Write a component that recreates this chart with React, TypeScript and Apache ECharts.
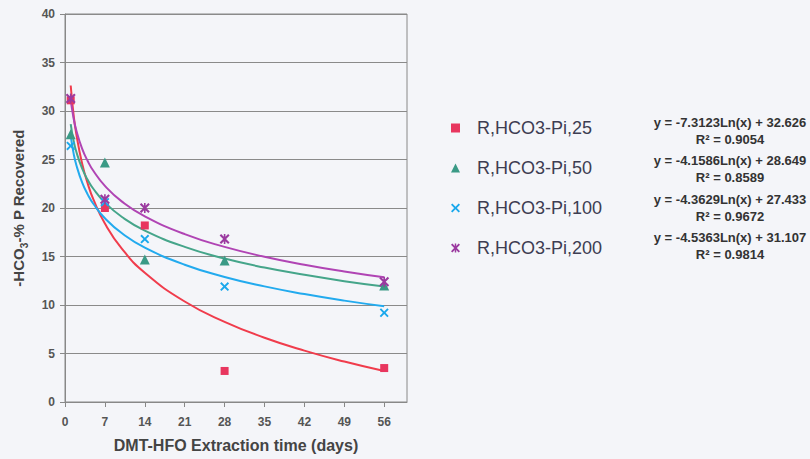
import React, { useEffect, useRef } from 'react';
import * as echarts from 'echarts';

// Measured points (days, % P recovered)
const days = [1, 7, 14, 28, 56];
const pi25 = [31.1, 20.0, 18.2, 3.2, 3.5];
const pi50 = [27.6, 24.7, 14.7, 14.6, 12.0];
const pi100 = [26.4, 20.6, 16.8, 11.9, 9.2];
const pi200 = [31.3, 20.9, 20.0, 16.8, 12.4];

// Logarithmic trend lines as drawn in the chart
const trendX = [1, 1.5, 2, 3, 4, 5, 7, 10, 14, 21, 28, 35, 42, 49, 56];
const trend25 = [32.63, 29.66, 27.56, 24.59, 22.49, 20.86, 18.4, 15.79, 13.33, 10.36, 8.26, 6.63, 5.3, 4.17, 3.19];
const trend50 = [28.65, 26.96, 25.77, 24.08, 22.88, 21.96, 20.56, 19.07, 17.67, 15.99, 14.79, 13.86, 13.11, 12.46, 11.91];
const trend100 = [27.43, 25.66, 24.41, 22.64, 21.38, 20.41, 18.94, 17.39, 15.92, 14.15, 12.89, 11.92, 11.13, 10.45, 9.87];
const trend200 = [31.11, 29.27, 27.96, 26.12, 24.82, 23.81, 22.28, 20.66, 19.14, 17.3, 15.99, 14.98, 14.15, 13.45, 12.85];

const seriesNames = ['R,HCO3-Pi,25', 'R,HCO3-Pi,50', 'R,HCO3-Pi,100', 'R,HCO3-Pi,200'];
const eqTexts = [
  'y = -7.3123Ln(x) + 32.626',
  'y = -4.1586Ln(x) + 28.649',
  'y = -4.3629Ln(x) + 27.433',
  'y = -4.5363Ln(x) + 31.107',
];
const r2Texts = ['R² = 0.9054', 'R² = 0.8589', 'R² = 0.9672', 'R² = 0.9814'];
const xTicks = [0, 7, 14, 21, 28, 35, 42, 49, 56];

const FONT = '"Liberation Sans", Arial, Helvetica, sans-serif';
const crossPath = 'path://M0,1.5L1.5,0L5,3.5L8.5,0L10,1.5L6.5,5L10,8.5L8.5,10L5,6.5L1.5,10L0,8.5L3.5,5Z';
const starPath = 'path://M0,1.5L1.5,0L5,3.5L8.5,0L10,1.5L6.5,5L10,8.5L8.5,10L5,6.5L1.5,10L0,8.5L3.5,5Z M4.2,0L5.8,0L5.8,10L4.2,10Z';

const markerColors = ['#e8365f', '#3a9a86', '#1aa8ec', '#9b3aa0'];
const lineColors = ['#f03c4c', '#45a58a', '#22aaee', '#b044b4'];
const symbols = ['rect', 'triangle', crossPath, starPath];
const symbolSizes = [8, 10, 9, 10];

export default function App() {
  const ref = useRef<HTMLDivElement>(null);
  useEffect(() => {
    const chart = echarts.init(ref.current!, null, { renderer: 'svg' });
    const pts = [pi25, pi50, pi100, pi200];
    const trends = [trend25, trend50, trend100, trend200];
    const scatterSeries = pts.map((vals, i) => ({
      name: seriesNames[i],
      type: 'scatter',
      data: days.map((d, j) => [d, vals[j]]),
      symbol: symbols[i],
      symbolSize: symbolSizes[i],
      itemStyle: { color: markerColors[i], opacity: 1 },
      z: 4,
      silent: true,
    }));
    const lineSeries = trends.map((vals, i) => ({
      name: 'trend' + i,
      type: 'line',
      data: trendX.map((d, j) => [d, vals[j]]),
      showSymbol: false,
      smooth: 0.5,
      lineStyle: { color: lineColors[i], width: 2 },
      itemStyle: { color: lineColors[i] },
      z: 3,
      silent: true,
    }));
    const graphics: any[] = [];
    const eqY = [122, 160, 199, 237];
    eqY.forEach((y, i) => {
      graphics.push({
        type: 'text',
        x: 730,
        y,
        style: {
          text: eqTexts[i],
          fill: '#333',
          font: `bold 13px ${FONT}`,
          textAlign: 'center',
          textVerticalAlign: 'middle',
        },
      });
      graphics.push({
        type: 'text',
        x: 730,
        y: y + 17,
        style: {
          text: r2Texts[i],
          fill: '#333',
          font: `bold 13px ${FONT}`,
          textAlign: 'center',
          textVerticalAlign: 'middle',
        },
      });
    });

    chart.setOption({
      animation: false,
      backgroundColor: '#f4f5f9',
      textStyle: { fontFamily: FONT },
      grid: {
        left: 65,
        right: 403,
        top: 14,
        bottom: 57,
        show: true,
        borderColor: '#888',
        borderWidth: 1,
        backgroundColor: 'transparent',
      },
      legend: {
        data: seriesNames,
        orient: 'vertical',
        left: 446,
        top: 113,
        itemWidth: 9,
        itemHeight: 9,
        itemGap: 20,
        textStyle: { fontSize: 18, color: '#3d3d52', fontFamily: FONT, lineHeight: 20, padding: [0, 0, 0, 12] },
        selectedMode: false,
      },
      xAxis: {
        type: 'value',
        min: 0,
        max: 60,
        interval: 7,
        name: 'DMT-HFO Extraction time (days)',
        nameLocation: 'middle',
        nameGap: 35,
        nameTextStyle: { fontSize: 16, fontWeight: 'bold', color: '#444', fontFamily: FONT },
        axisLine: { show: true, lineStyle: { color: '#888', width: 1 } },
        axisTick: { show: true, length: 5, lineStyle: { color: '#888' }, customValues: xTicks },
        axisLabel: {
          customValues: xTicks,
          margin: 14,
          fontSize: 12,
          fontWeight: 'bold',
          color: '#555',
          fontFamily: FONT,
        },
        splitLine: { show: false },
      },
      yAxis: {
        type: 'value',
        min: 0,
        max: 40,
        interval: 5,
        name: '{a|-HCO}{s|3}{a|-% P Recovered}',
        nameLocation: 'middle',
        nameGap: 39,
        nameTextStyle: {
          rich: {
            a: { fontSize: 15, fontWeight: 'bold', color: '#444', fontFamily: FONT, lineHeight: 18, verticalAlign: 'bottom' },
            s: { fontSize: 10, fontWeight: 'bold', color: '#444', fontFamily: FONT, lineHeight: 10, verticalAlign: 'bottom', padding: [0, 0, -3, 0] },
          },
        },
        axisLine: { show: true, lineStyle: { color: '#888', width: 1 } },
        axisTick: { show: true, length: 5, lineStyle: { color: '#888' } },
        axisLabel: { margin: 10, fontSize: 12, fontWeight: 'bold', color: '#555', fontFamily: FONT },
        splitLine: { show: true, lineStyle: { color: '#8a8a8a', width: 1.2 } },
      },
      graphic: graphics,
      series: [...lineSeries, ...scatterSeries],
    });
    return () => chart.dispose();
  }, []);
  return <div ref={ref} style={{ position: 'fixed', left: 0, top: 0, width: 810, height: 459 }} />;
}
